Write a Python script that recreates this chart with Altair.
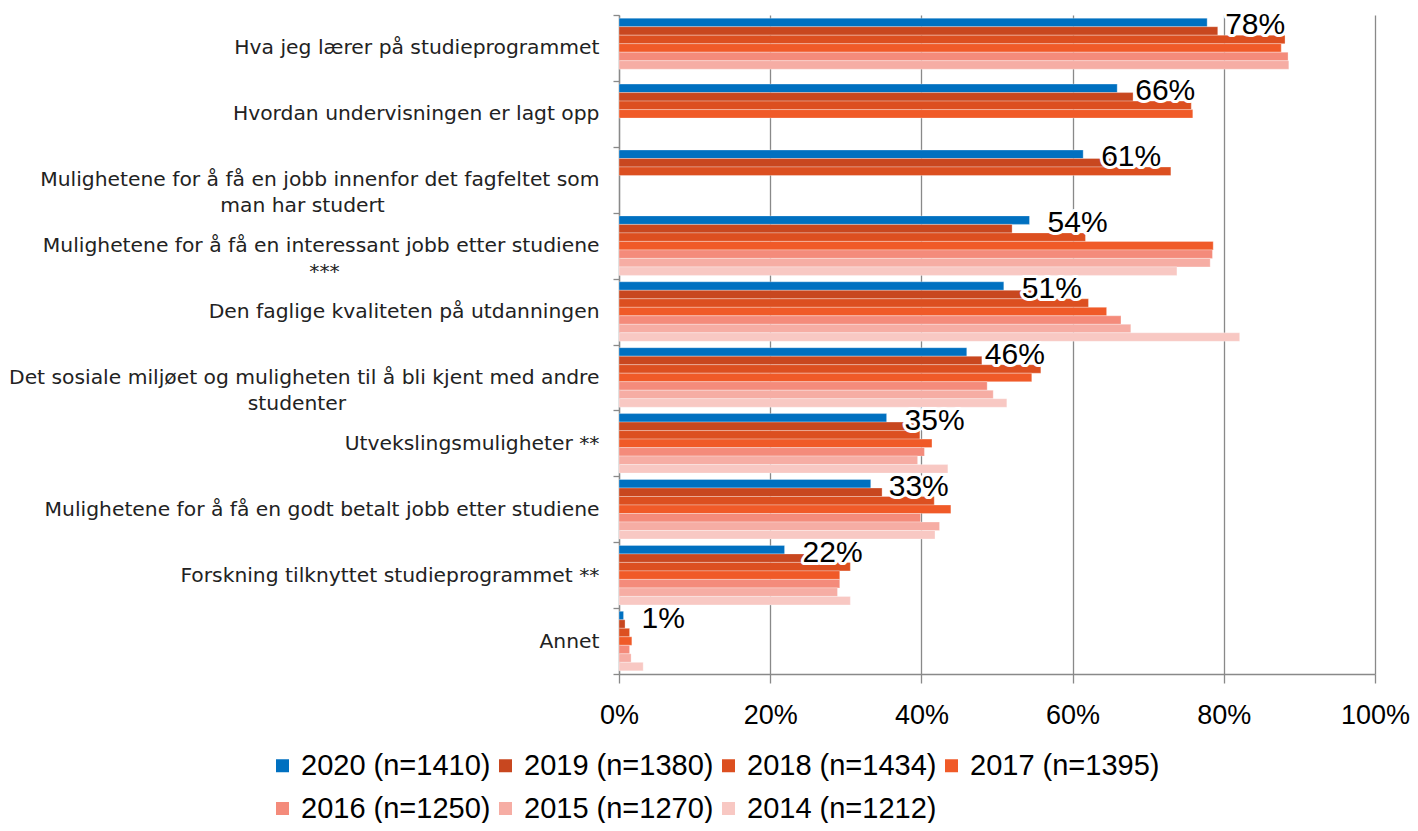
import altair as alt
import pandas as pd

categories = [
    "Hva jeg lærer på studieprogrammet",
    "Hvordan undervisningen er lagt opp",
    "Mulighetene for å få en jobb innenfor det fagfeltet som|man har studert",
    "Mulighetene for å få en interessant jobb etter studiene|***",
    "Den faglige kvaliteten på utdanningen",
    "Det sosiale miljøet og muligheten til å bli kjent med andre|studenter",
    "Utvekslingsmuligheter **",
    "Mulighetene for å få en godt betalt jobb etter studiene",
    "Forskning tilknyttet studieprogrammet **",
    "Annet",
]

series = [
    "2020 (n=1410)",
    "2019 (n=1380)",
    "2018 (n=1434)",
    "2017 (n=1395)",
    "2016 (n=1250)",
    "2015 (n=1270)",
    "2014 (n=1212)",
]

v2020 = [77.8, 65.9, 61.4, 54.3, 50.9, 46.0, 35.4, 33.3, 21.9, 0.6]
v2019 = [79.2, 68.0, 65.4, 52.0, 55.6, 48.0, 39.3, 34.8, 24.5, 0.8]
v2018 = [88.1, 75.7, 73.0, 61.7, 62.1, 55.8, 39.8, 41.7, 30.6, 1.4]
v2017 = [87.6, 75.9, None, 78.6, 64.5, 54.6, 41.4, 43.9, 29.2, 1.7]
v2016 = [88.5, None, None, 78.5, 66.4, 48.7, 40.4, 39.9, 29.2, 1.4]
v2015 = [88.6, None, None, 78.2, 67.7, 49.5, 39.5, 42.4, 28.9, 1.6]
v2014 = [None, None, None, 73.8, 82.1, 51.3, 43.5, 41.8, 30.6, 3.2]

colors = ["#0070C0", "#C8471F", "#DC4F20", "#F05A28", "#F48B7B", "#F6ADA4", "#F8C8C3"]

x_ticks = [0, 20, 40, 60, 80, 100]

# trailing no-break spaces (closed by a blank glyph) visually centre the second line
second_line_pad = {2: 31, 3: 38, 5: 37}
display = []
for i, c in enumerate(categories):
    if i in second_line_pad:
        c = c + "\u00a0" * second_line_pad[i] + "\u2800"
    display.append(c)

rows = []
for s, vals in zip(series, [v2020, v2019, v2018, v2017, v2016, v2015, v2014]):
    for c, v in zip(display, vals):
        if v is not None:
            rows.append({"category": c, "series": s, "value": v})
df = pd.DataFrame(rows)

GRAY = "#898989"

y_enc = alt.Y(
    "category:N",
    sort=display,
    scale=alt.Scale(domain=display, paddingInner=0, paddingOuter=0),
    title=None,
    axis=alt.Axis(
        labelExpr="split(datum.label, '|')",
        labelFont="DejaVu Sans",
        labelFontSize=20.3,
        labelColor="#222222",
        labelLimit=800,
        labelAlign="right",
        labelPadding=14,
        labelBaseline="middle",
        labelLineHeight=26,
        tickBand="extent",
        tickSize=6,
        tickColor=GRAY,
        tickWidth=1.3,
        domainColor=GRAY,
        domainWidth=1.3,
        grid=False,
    ),
)
yoff = alt.YOffset(
    "series:N",
    sort=series,
    scale=alt.Scale(domain=series, paddingInner=0, paddingOuter=0.375),
)
x_enc = alt.X(
    "value:Q",
    scale=alt.Scale(domain=[0, 100]),
    title=None,
    axis=alt.Axis(
        values=x_ticks,
        labelExpr="datum.value + '%'",
        labelFont="Liberation Sans",
        labelFontSize=27,
        labelColor="black",
        labelFlush=False,
        labelPadding=19,
        tickSize=9,
        tickColor=GRAY,
        tickWidth=1.3,
        domainColor=GRAY,
        domainWidth=1.3,
        grid=True,
        gridColor=GRAY,
        gridWidth=1.3,
    ),
)

bars = alt.Chart(df).mark_bar(stroke="white", strokeWidth=0.5, strokeOpacity=0.6).encode(
    x=x_enc,
    y=y_enc,
    yOffset=yoff,
    color=alt.Color(
        "series:N",
        sort=series,
        scale=alt.Scale(domain=series, range=colors),
        legend=alt.Legend(
            title=None,
            orient="none",
            legendX=-351,
            legendY=736,
            direction="horizontal",
            columns=4,
            symbolType="square",
            symbolSize=169,
            symbolStrokeWidth=0,
            labelFont="Liberation Sans",
            labelFontSize=29,
            labelColor="black",
            columnPadding=0,
            rowPadding=13,
            labelOffset=4,
            labelLimit=400,
        ),
    ),
)

lab_base = alt.Chart(df).transform_filter(
    alt.datum.series == series[0]
).transform_calculate(
    label="format(datum.value, '.0f') + '%'"
)

halo = lab_base.mark_text(
    align="left", baseline="middle", dx=18, dy=3, fontSize=30,
    font="Liberation Sans", color="white", stroke="white", strokeWidth=6, strokeJoin="round",
).encode(x="value:Q", y=y_enc, yOffset=yoff, text="label:N")

labels = lab_base.mark_text(
    align="left", baseline="middle", dx=18, dy=3, fontSize=30,
    font="Liberation Sans", color="black",
).encode(x="value:Q", y=y_enc, yOffset=yoff, text="label:N")

chart = alt.layer(bars, halo, labels).properties(
    width=756,
    height=659,
    autosize=alt.AutoSizeParams(type="none"),
    padding={"left": 611, "top": 7, "right": 35, "bottom": 149},
).configure(background="white").configure_view(stroke=None)

chart.save("out.html", embed_options={"renderer": "svg", "actions": False})
